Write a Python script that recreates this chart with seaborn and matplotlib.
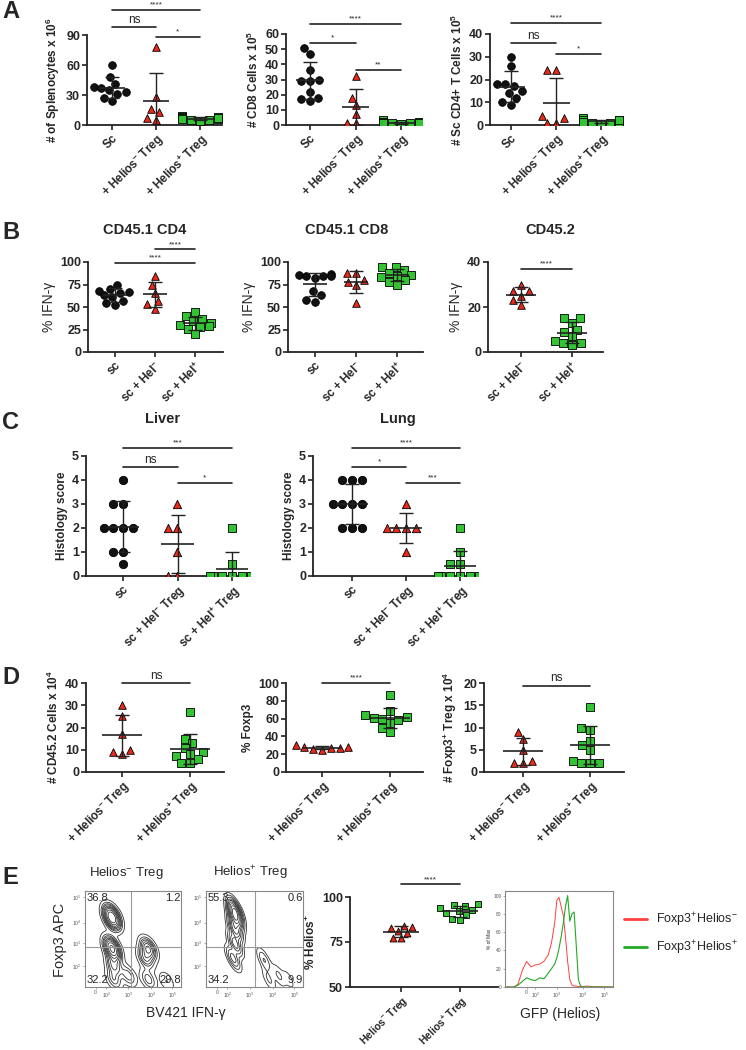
import numpy as np
import matplotlib
matplotlib.use('Agg')
import matplotlib.pyplot as plt
import seaborn as sns

sns.set_style('ticks')
plt.rcParams['font.family'] = ['Liberation Sans', 'DejaVu Sans']
plt.rcParams['mathtext.default'] = 'regular'

W, H = 746, 1050

# ---------------- data ----------------
# A: counts
a1_sc = [60, 48, 41, 38, 37, 35, 33, 31, 27, 24]
a1_hm = [78, 28, 16, 13, 7, 5]
a1_hp = [9, 8, 8, 7, 6, 6, 5, 5, 4, 7]
a2_sc = [51, 47, 36, 30, 29, 29, 22, 18, 17, 16]
a2_hm = [32, 18, 13, 7, 1, 1]
a2_hp = [3, 2, 2, 1.5, 1, 1, 0.5, 1, 2, 1.5]
a3_sc = [30, 26, 18, 18, 17, 15, 14, 12, 10, 9]
a3_hm = [24, 24, 4, 3, 1, 1]
a3_hp = [3, 2, 2, 1.5, 1, 1, 1, 0.5, 2, 1.5]
a_labels = ['Sc', '+ Helios$^{-}$ Treg', '+ Helios$^{+}$ Treg']

# B: % IFN-g
b1_sc = [75, 70, 68, 67, 66, 63, 61, 57, 54, 52]
b1_hm = [85, 75, 66, 57, 53, 48]
b1_hp = [45, 40, 37, 34, 32, 30, 29, 28, 26, 20]
b2_sc = [87, 86, 85, 85, 84, 82, 68, 63, 58, 56]
b2_hm = [88, 88, 80, 78, 75, 55]
b2_hp = [95, 94, 91, 88, 86, 85, 83, 80, 78, 75]
b3_hm = [30, 27, 27, 25, 23, 21]
b3_hp = [15, 15, 13, 10, 9, 7, 5, 4, 4, 3]
b_labels = ['sc', 'sc + Hel$^{-}$', 'sc + Hel$^{+}$']

# C: histology
c1_sc = [4, 3, 3, 2, 2, 2, 2, 1, 1, 0.5]
c1_hm = [3, 2, 2, 1, 0, 0]
c1_hp = [2, 0.5, 0, 0, 0, 0, 0, 0]
c2_sc = [4, 4, 4, 3, 3, 3, 3, 2, 2, 2]
c2_hm = [3, 2, 2, 2, 2, 1]
c2_hp = [2, 1, 0.5, 0.5, 0, 0, 0, 0, 0, 0]
c_labels = ['sc', 'sc + Hel$^{-}$ Treg', 'sc + Hel$^{+}$ Treg']

# D
d1_hm = [30, 25, 17, 10, 9, 8]
d1_hp = [27, 15, 13, 11, 9, 8, 7, 6, 4, 4]
d2_hm = [30, 28, 28, 27, 27, 26, 25]
d2_hp = [86, 68, 64, 62, 61, 60, 58, 55, 50, 45]
d3_hm = [9, 7.5, 5, 2.5, 2, 2]
d3_hp = [14.5, 10, 9.5, 7, 6, 5, 2.5, 2, 2, 2]
d_labels = ['+ Helios$^{-}$ Treg', '+ Helios$^{+}$ Treg']

# E: % Helios+
e_hm = [84, 83.5, 83, 81, 80, 77, 77]
e_hp = [96, 95.5, 95, 94, 93, 92, 91, 90, 88, 87]
e_labels = ['Helios$^{-}$ Treg', 'Helios$^{+}$ Treg']

# E: flow contour events (display units 0-1) with weights
flow1_x = [0.28, 0.28, 0.28, 0.29, 0.30, 0.66, 0.63, 0.45, 0.30, 0.66, 0.85]
flow1_y = [0.75, 0.70, 0.42, 0.36, 0.22, 0.40, 0.30, 0.12, 0.08, 0.08, 0.06]
flow1_w = [3, 3, 3, 2, 1.5, 2.5, 1.5, 1, 1, 1, 0.5]
flow2_x = [0.30, 0.30, 0.30, 0.30, 0.28, 0.60, 0.75, 0.65, 0.85]
flow2_y = [0.80, 0.72, 0.60, 0.45, 0.30, 0.28, 0.12, 0.08, 0.08]
flow2_w = [4, 4, 2.5, 2, 1.5, 0.8, 0.5, 0.5, 0.3]
flow1_q = ['36.8', '1.2', '32.2', '29.8']
flow2_q = ['55.3', '0.6', '34.2', '9.9']

# E: GFP histogram (% of max)
hist_x = [0.0, 0.08, 0.12, 0.16, 0.2, 0.24, 0.28, 0.32, 0.36, 0.4, 0.43, 0.46, 0.48, 0.5,
          0.52, 0.54, 0.56, 0.58, 0.6, 0.62, 0.64, 0.66, 0.68, 0.7, 0.72, 0.76, 0.8, 1.0]
hist_neg = [0, 0, 3, 18, 28, 22, 24, 25, 28, 35, 48, 70, 95, 98,
            88, 78, 55, 28, 8, 2, 1, 1, 0.5, 1, 0.5, 1, 0.5, 0]
hist_pos = [0, 0, 2, 6, 10, 8, 7, 10, 9, 15, 20, 25, 32, 42,
            55, 70, 88, 100, 72, 80, 82, 45, 8, 1, 0, 0, 0, 0]

RED = '#e8291c'
GREEN = '#33c433'
INK = '#222222'
styles = {'sc': ('o', '#111111'), 'hm': ('^', RED), 'hp': ('s', GREEN)}

fig = plt.figure(figsize=(W / 100, H / 100), dpi=100)


def add_ax(x0, x1, ytop, ybot):
    return fig.add_axes([x0 / W, 1 - ybot / H, (x1 - x0) / W, (ybot - ytop) / H])


def bracket(ax, x1, x2, y, txt):
    ax.plot([x1, x2], [y, y], color=INK, lw=1.2, clip_on=False)
    fs = 8.5 if txt == 'ns' else 6
    ax.annotate(txt, xy=((x1 + x2) / 2, y), xytext=(0, 1), textcoords='offset points',
                ha='center', va='bottom', fontsize=fs, annotation_clip=False)


def dot_panel(box, c0, sp, groups, labels, ylim, yticks, ylabel, size=5.5,
              ylabel_weight='bold', ylabel_size=8.5, xlab_size=8.5):
    x0, x1, ytop, ybot = box
    ax = add_ax(x0, x1, ytop, ybot)
    for i, (kind, vals) in enumerate(groups):
        marker, col = styles[kind]
        sns.swarmplot(x=[labels[i]] * len(vals), y=vals, order=labels, marker=marker,
                      color=col, edgecolor='black', linewidth=0.6, size=size, ax=ax, zorder=3)
        m = np.mean(vals)
        s = np.std(vals, ddof=1)
        ax.hlines(m, i - 0.3, i + 0.3, color=INK, lw=1.2, zorder=4)
        ax.errorbar(i, m, yerr=s, color=INK, lw=1.0, capsize=5, capthick=1.0, zorder=4)
    ax.set_xlim((x0 - c0) / sp, (x1 - c0) / sp)
    ax.set_ylim(*ylim)
    ax.set_yticks(yticks)
    ax.set_yticklabels([str(t) for t in yticks], fontweight='bold', fontsize=9)
    ax.set_xticks(range(len(labels)))
    ax.set_xticklabels(labels, rotation=45, ha='right', rotation_mode='anchor',
                       fontweight='bold', fontsize=xlab_size)
    ax.set_xlabel('')
    ax.set_ylabel(ylabel, fontweight=ylabel_weight, fontsize=ylabel_size, labelpad=3)
    sns.despine(ax=ax)
    for sp_ in ['left', 'bottom']:
        ax.spines[sp_].set_linewidth(1.3)
        ax.spines[sp_].set_color(INK)
    ax.tick_params(length=3.5, width=1.2, color=INK, pad=1.5)
    return ax


# ---------------- row A ----------------
ax = dot_panel((87, 222, 35, 125), 112, 44, [('sc', a1_sc), ('hm', a1_hm), ('hp', a1_hp)],
               a_labels, (0, 90), [0, 30, 60, 90], '# of Splenocytes x 10$^{6}$')
bracket(ax, 0, 2, 115, '****')
bracket(ax, 0, 1, 98, 'ns')
bracket(ax, 1, 2, 88, '*')

ax = dot_panel((286, 422, 34, 125), 310, 45.5, [('sc', a2_sc), ('hm', a2_hm), ('hp', a2_hp)],
               a_labels, (0, 60), [0, 10, 20, 30, 40, 50, 60], '# CD8 Cells x 10$^{5}$')
bracket(ax, 0, 2, 66.6, '****')
bracket(ax, 0, 1, 54, '*')
bracket(ax, 1, 2, 36.3, '**')

ax = dot_panel((490, 623, 34, 125), 511, 45, [('sc', a3_sc), ('hm', a3_hm), ('hp', a3_hp)],
               a_labels, (0, 40), [0, 10, 20, 30, 40], '# Sc CD4+ T Cells x 10$^{5}$')
bracket(ax, 0, 2, 44.8, '****')
bracket(ax, 0, 1, 36, 'ns')
bracket(ax, 1, 2, 31.2, '*')

# ---------------- row B ----------------
ax = dot_panel((88, 223, 262, 352), 115, 40, [('sc', b1_sc), ('hm', b1_hm), ('hp', b1_hp)],
               b_labels, (0, 100), [0, 25, 50, 75, 100], '% IFN-γ',
               ylabel_weight='normal', ylabel_size=10)
bracket(ax, 0, 2, 99, '****')
bracket(ax, 1, 2, 114, '****')

ax = dot_panel((288, 423, 262, 352), 315, 41, [('sc', b2_sc), ('hm', b2_hm), ('hp', b2_hp)],
               b_labels, (0, 100), [0, 25, 50, 75, 100], '% IFN-γ',
               ylabel_weight='normal', ylabel_size=10)

ax = dot_panel((488, 603, 262, 352), 521, 51, [('hm', b3_hm), ('hp', b3_hp)],
               b_labels[1:], (0, 40), [0, 20, 40], '% IFN-γ',
               ylabel_weight='normal', ylabel_size=10)
bracket(ax, 0, 1, 36.9, '****')

# ---------------- row C ----------------
ax = dot_panel((86, 250, 456, 576), 123, 54.5, [('sc', c1_sc), ('hm', c1_hm), ('hp', c1_hp)],
               c_labels, (0, 5), [0, 1, 2, 3, 4, 5], 'Histology score', size=6)
bracket(ax, 0, 2, 5.33, '***')
bracket(ax, 0, 1, 4.54, 'ns')
bracket(ax, 1, 2, 3.875, '*')

ax = dot_panel((313, 478, 456, 576), 352, 54, [('sc', c2_sc), ('hm', c2_hm), ('hp', c2_hp)],
               c_labels, (0, 5), [0, 1, 2, 3, 4, 5], 'Histology score', size=6)
bracket(ax, 0, 2, 5.33, '****')
bracket(ax, 0, 1, 4.54, '*')
bracket(ax, 1, 2, 3.875, '***')

# ---------------- row D ----------------
ax = dot_panel((86, 224, 683, 772), 122, 68, [('hm', d1_hm), ('hp', d1_hp)],
               d_labels, (0, 40), [0, 10, 20, 30, 40], '# CD45.2 Cells x 10$^{4}$')
bracket(ax, 0, 1, 40, 'ns')

ax = dot_panel((286, 423, 683, 772), 322, 68, [('hm', d2_hm), ('hp', d2_hp)],
               d_labels, (0, 100), [0, 20, 40, 60, 80, 100], '% Foxp3')
bracket(ax, 0, 1, 100, '****')

ax = dot_panel((484, 624, 683, 772), 523, 67, [('hm', d3_hm), ('hp', d3_hp)],
               d_labels, (0, 20), [0, 5, 10, 15, 20], '# Foxp3$^{+}$ Treg x 10$^{4}$')
bracket(ax, 0, 1, 19.4, 'ns')

# ---------------- row E ----------------
ax = dot_panel((350, 498, 897, 987), 401, 59, [('hm', e_hm), ('hp', e_hp)],
               e_labels, (50, 100), [50, 75, 100], '% Helios$^{+}$', size=5, xlab_size=7.5)
bracket(ax, 0, 1, 107, '****')


def flow_panel(box, fx, fy, fw, quad, gx):
    ax = add_ax(*box)
    sns.kdeplot(x=fx, y=fy, weights=fw, levels=10, color='#333333', linewidths=0.6,
                bw_adjust=0.4, ax=ax)
    ax.set_xlim(0, 1)
    ax.set_ylim(0, 1)
    ax.axvline(gx, color='#999999', lw=0.8)
    ax.axhline(0.42, color='#999999', lw=0.8)
    for s in ax.spines.values():
        s.set_color('#888888')
        s.set_linewidth(0.8)
    ax.set_xticks([0.11, 0.22, 0.45, 0.69, 0.91])
    ax.set_xticklabels(['0', '10$^{2}$', '10$^{3}$', '10$^{4}$', '10$^{5}$'],
                       fontsize=3.5, color='#555555')
    ax.set_yticks([0.22, 0.46, 0.67, 0.94])
    ax.set_yticklabels(['10$^{2}$', '10$^{3}$', '10$^{4}$', '10$^{5}$'],
                       fontsize=3.5, color='#555555')
    ax.tick_params(length=1.5, width=0.5, pad=1, color='#888888')
    ax.set_xlabel('')
    ax.set_ylabel('')
    ax.text(0.02, 0.98, quad[0], transform=ax.transAxes, ha='left', va='top', fontsize=8)
    ax.text(1.0, 0.98, quad[1], transform=ax.transAxes, ha='right', va='top', fontsize=8)
    ax.text(0.02, 0.02, quad[2], transform=ax.transAxes, ha='left', va='bottom', fontsize=8)
    ax.text(1.0, 0.02, quad[3], transform=ax.transAxes, ha='right', va='bottom', fontsize=8)
    return ax


flow_panel((85, 181, 891, 987), flow1_x, flow1_y, flow1_w, flow1_q, 0.48)
flow_panel((206, 303, 891, 987), flow2_x, flow2_y, flow2_w, flow2_q, 0.5)

axh = add_ax(505, 613, 891, 987)
sns.lineplot(x=hist_x, y=hist_neg, color='#ff4040', lw=0.7, ax=axh,
             label='Foxp3$^{+}$Helios$^{-}$')
sns.lineplot(x=hist_x, y=hist_pos, color='#22aa22', lw=0.8, ax=axh,
             label='Foxp3$^{+}$Helios$^{+}$')
axh.set_xlim(0, 1)
axh.set_ylim(0, 105)
axh.set_yticks([0, 20, 40, 60, 80, 100])
axh.set_yticklabels(['0', '20', '40', '60', '80', '100'], fontsize=3.5, color='#555555')
axh.set_xticks([0.2, 0.28, 0.48, 0.72, 0.92])
axh.set_xticklabels(['0', '10$^{2}$', '10$^{3}$', '10$^{4}$', '10$^{5}$'],
                    fontsize=3.5, color='#555555')
axh.set_ylabel('% of Max', fontsize=3.5, labelpad=1)
axh.tick_params(length=1.5, width=0.5, pad=1, color='#888888')
for s in axh.spines.values():
    s.set_color('#888888')
    s.set_linewidth(0.8)
leg = axh.legend(frameon=False, loc='center left', bbox_to_anchor=(613 / W, 1 - 934 / H),
                 bbox_transform=fig.transFigure, fontsize=9, handlelength=1.8,
                 labelspacing=0.8, handletextpad=0.7)
for ln in leg.get_lines():
    ln.set_linewidth(2)

# ---------------- texts ----------------
def ftext(x, y, s, **kw):
    fig.text(x / W, 1 - y / H, s, **kw)


for letter, yy in [('A', 12), ('B', 232), ('C', 423), ('D', 677), ('E', 878)]:
    ftext(2, yy, letter, fontsize=17, fontweight='bold', va='center', ha='left')

for s, xx in [('CD45.1 CD4', 145), ('CD45.1 CD8', 347), ('CD45.2', 550)]:
    ftext(xx, 230, s, fontsize=10.5, fontweight='bold', ha='center', va='center')
for s, xx in [('Liver', 163), ('Lung', 398)]:
    ftext(xx, 419, s, fontsize=10.5, fontweight='bold', ha='center', va='center')

ftext(126, 873, 'Helios$^{-}$ Treg', fontsize=9.5, ha='center', va='center')
ftext(250, 873, 'Helios$^{+}$ Treg', fontsize=9.5, ha='center', va='center')
ftext(60, 940, 'Foxp3 APC', fontsize=10.5, rotation=90, ha='center', va='center')
ftext(186, 1013, 'BV421 IFN-γ', fontsize=10, ha='center', va='center')
ftext(560, 1014, 'GFP (Helios)', fontsize=10, ha='center', va='center')

fig.savefig('out.png', dpi=100)
